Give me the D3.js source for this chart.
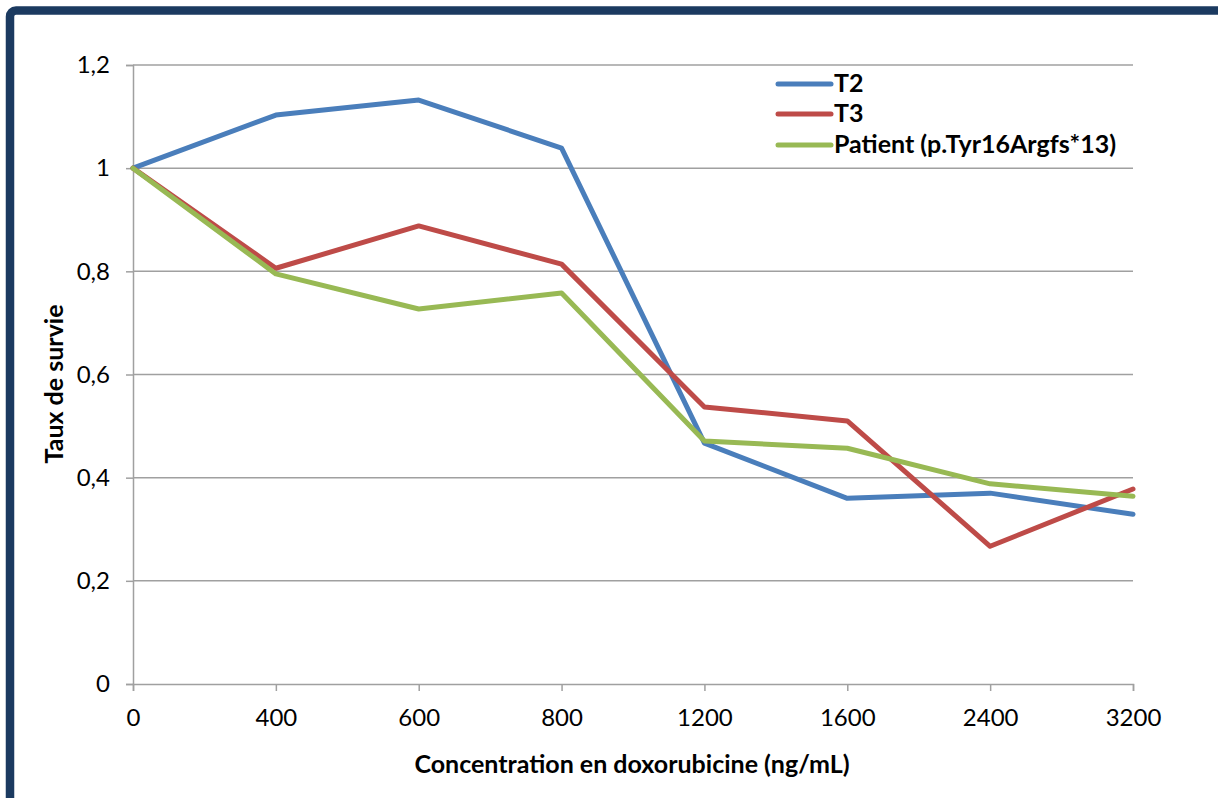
<!DOCTYPE html>
<html><head><meta charset="utf-8">
<script src="https://cdn.jsdelivr.net/npm/d3@7"></script>
<style>
html,body{margin:0;padding:0;background:#fff;}
svg{display:block;font-family:Lato,"Open Sans",sans-serif;}
</style></head>
<body>
<svg id="c" width="1218" height="798"></svg>
<script>
const categories = ["0","400","600","800","1200","1600","2400","3200"];
const seriesNames = ["T2","T3","Patient (p.Tyr16Argfs*13)"];
const t2 = [1.0, 1.103, 1.132, 1.039, 0.467, 0.360, 0.370, 0.329];
const t3 = [1.0, 0.806, 0.888, 0.814, 0.537, 0.510, 0.267, 0.378];
const patient = [1.0, 0.795, 0.727, 0.758, 0.471, 0.457, 0.388, 0.364];
const yTicks = [0, 0.2, 0.4, 0.6, 0.8, 1.0, 1.2];
const colors = ["#4a7ebb", "#be4b48", "#98b954"];

const svg = d3.select("#c");
// frame
svg.append("rect").attr("x", 10).attr("y", 10.5).attr("width", 1230).attr("height", 820)
  .attr("rx", 6).attr("fill", "#fff").attr("stroke", "#1b3a60").attr("stroke-width", 8.5);

const x = d3.scalePoint().domain(categories).range([133, 1133]).padding(0);
const y = d3.scaleLinear().domain([0, 1.2]).range([684, 65]);

// gridlines
svg.append("g").selectAll("line").data(yTicks.filter(d => d > 0)).join("line")
  .attr("x1", 133).attr("x2", 1133).attr("y1", d => y(d)).attr("y2", d => y(d))
  .attr("stroke", "#a0a0a0").attr("stroke-width", 1.5);

// y axis
const fmt = d => d3.format(".1f")(d).replace(".", ",").replace(/,0$/, "");
const yAxis = svg.append("g").attr("transform", "translate(133,0)")
  .call(d3.axisLeft(y).tickValues(yTicks).tickFormat(fmt).tickSize(7).tickPadding(16));
yAxis.select(".domain").attr("stroke", "#a0a0a0").attr("stroke-width", 1.5);
yAxis.selectAll(".tick line").attr("stroke", "#a0a0a0").attr("stroke-width", 1.5);
yAxis.selectAll("text").attr("font-size", 24).attr("fill", "#000").attr("font-family", "Lato, sans-serif");

// x axis
const xAxis = svg.append("g").attr("transform", "translate(0,684)")
  .call(d3.axisBottom(x).tickSize(7).tickPadding(18));
xAxis.select(".domain").attr("stroke", "#a0a0a0").attr("stroke-width", 1.5);
xAxis.selectAll(".tick line").attr("stroke", "#a0a0a0").attr("stroke-width", 1.5);
xAxis.selectAll("text").attr("font-size", 24).attr("fill", "#000").attr("font-family", "Lato, sans-serif");

// lines
const data = [t2, t3, patient];
const line = d3.line().x((d, i) => x(categories[i])).y(d => y(d));
svg.append("g").selectAll("path").data(data).join("path")
  .attr("d", line).attr("fill", "none")
  .attr("stroke", (d, i) => colors[i]).attr("stroke-width", 5)
  .attr("stroke-linejoin", "round").attr("stroke-linecap", "round");

// legend
const lg = svg.append("g");
const ly = [84, 114, 145];
seriesNames.forEach((n, i) => {
  lg.append("line").attr("x1", 778).attr("x2", 831).attr("y1", ly[i]).attr("y2", ly[i])
    .attr("stroke", colors[i]).attr("stroke-width", 5).attr("stroke-linecap", "round");
  lg.append("text").attr("x", 834).attr("y", ly[i] + 8).text(n)
    .attr("font-size", 25).attr("font-weight", "bold").attr("fill", "#000");
});

// axis titles
svg.append("text").attr("transform", "translate(63,384) rotate(-90)")
  .attr("text-anchor", "middle").attr("font-size", 25).attr("font-weight", "bold").text("Taux de survie");
svg.append("text").attr("x", 632).attr("y", 773)
  .attr("text-anchor", "middle").attr("font-size", 25).attr("font-weight", "bold").text("Concentration en doxorubicine (ng/mL)");
</script>
</body></html>
